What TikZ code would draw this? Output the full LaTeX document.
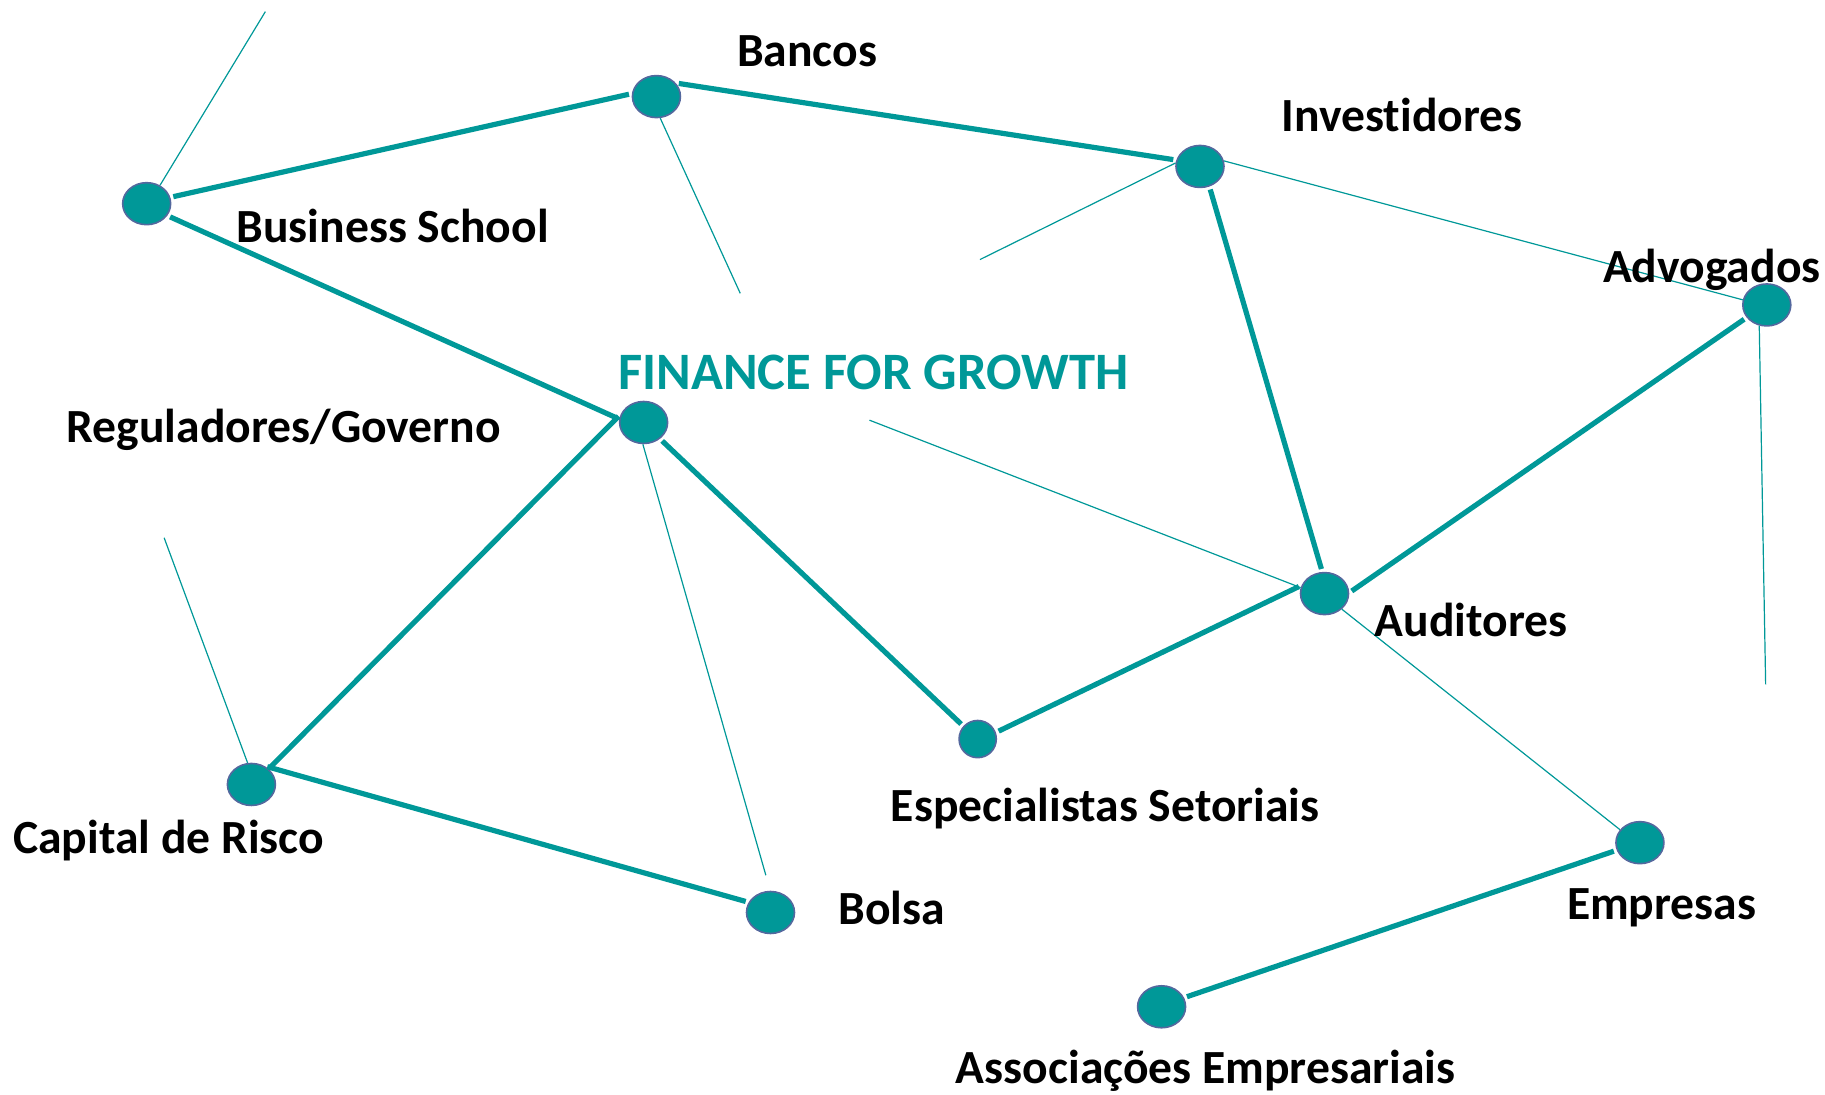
\documentclass[tikz,border=0pt]{standalone}
\usepackage{fontspec}
\setmainfont{Carlito}[Ligatures={NoCommon}]
\usetikzlibrary{shapes.geometric}
\definecolor{tealc}{RGB}{0,152,152}
\definecolor{edgec}{RGB}{84,104,158}
\begin{document}
\begin{tikzpicture}[x=0.58195pt,y=-0.58195pt,
  dot/.style={ellipse, fill=tealc, draw=edgec, line width=0.8pt, minimum width=24pt, minimum height=21pt, inner sep=0pt},
  smalldot/.style={dot, minimum width=18.6pt, minimum height=18.6pt},
  strong/.style={draw=tealc, line width=2.6pt, shorten <=1.5pt, shorten >=1.5pt},
  weak/.style={draw=tealc, line width=0.6pt},
  lbl/.style={font=\fontsize{23.8}{28}\selectfont\bfseries, anchor=base west, inner sep=0pt},
  ttl/.style={font=\fontsize{26.3}{31}\selectfont\bfseries, anchor=base west, inner sep=0pt, text=tealc},
]
\useasboundingbox (0,0) rectangle (1568,940);

\node[dot] (bs) at (126,175) {};
\node[dot] (bancos) at (564,83) {};
\node[dot] (inv) at (1031,143) {};
\node[dot] (adv) at (1518,262) {};
\node[dot] (fin) at (553,363) {};
\node[dot] (aud) at (1138,510) {};
\node[smalldot] (esp) at (840,635) {};
\node[dot] (cap) at (216,674) {};
\node[dot] (bolsa) at (662,784) {};
\node[dot] (emp) at (1409,724) {};
\node[dot] (assoc) at (998,865) {};

\coordinate (f1) at (228,10);
\coordinate (f2) at (636,252);
\coordinate (f3) at (842,223);
\coordinate (f4) at (1517,588);
\coordinate (f5) at (658,752);
\coordinate (f6) at (747,361);
\coordinate (f7) at (141,462);

% strong connectors
\draw[strong] (bs.15) -- (bancos.173);
\draw[strong] (bancos.35) -- (inv.165);
\draw[strong] (bs.-30) -- (fin.172);
\draw[strong] (fin.160) -- (cap.42);
\draw[strong] (cap.55) -- (bolsa.155);
\draw[strong] (fin.-45) -- (esp.138);
\draw[strong] (esp.20) -- (aud.160);
\draw[strong] (inv.-65) -- (aud.96);
\draw[strong] (aud.2) -- (adv.212);
\draw[strong] (emp.198) -- (assoc.22);

% weak connectors
\draw[weak] (bs.54) -- (f1);
\draw[weak] (bancos.-80) -- (f2);
\draw[weak] (inv.172) -- (f3);
\draw[weak] (inv.13) -- (adv.168);
\draw[weak] (adv.-110) -- (f4);
\draw[weak] (fin.-92) -- (f5);
\draw[weak] (f6) -- (aud.166);
\draw[weak] (aud.-42) -- (emp.147);
\draw[weak] (f7) -- (cap.100);

% labels
\node[lbl] (lbancos) at (633,57) {Bancos};
\node[lbl] (linv) at (1101,113) {Investidores};
\node[lbl] (lbs) at (203,208) {Business School};
\node[lbl] (ladv) at (1377,243) {Advogados};
\node[ttl] (ltitle) at (531,335) {FINANCE FOR GROWTH};
\node[lbl] (lreg) at (57,380) {Reguladores/Governo};
\node[lbl] (laud) at (1181,547) {Auditores};
\node[lbl] (lesp) at (765,706) {Especialistas Setoriais};
\node[lbl] (lcap) at (11,733) {Capital de Risco};
\node[lbl] (lbolsa) at (720,794) {Bolsa};
\node[lbl] (lemp) at (1346,790) {Empresas};
\node[lbl] (lassoc) at (821,931) {Associações Empresariais};
\end{tikzpicture}
\end{document}
